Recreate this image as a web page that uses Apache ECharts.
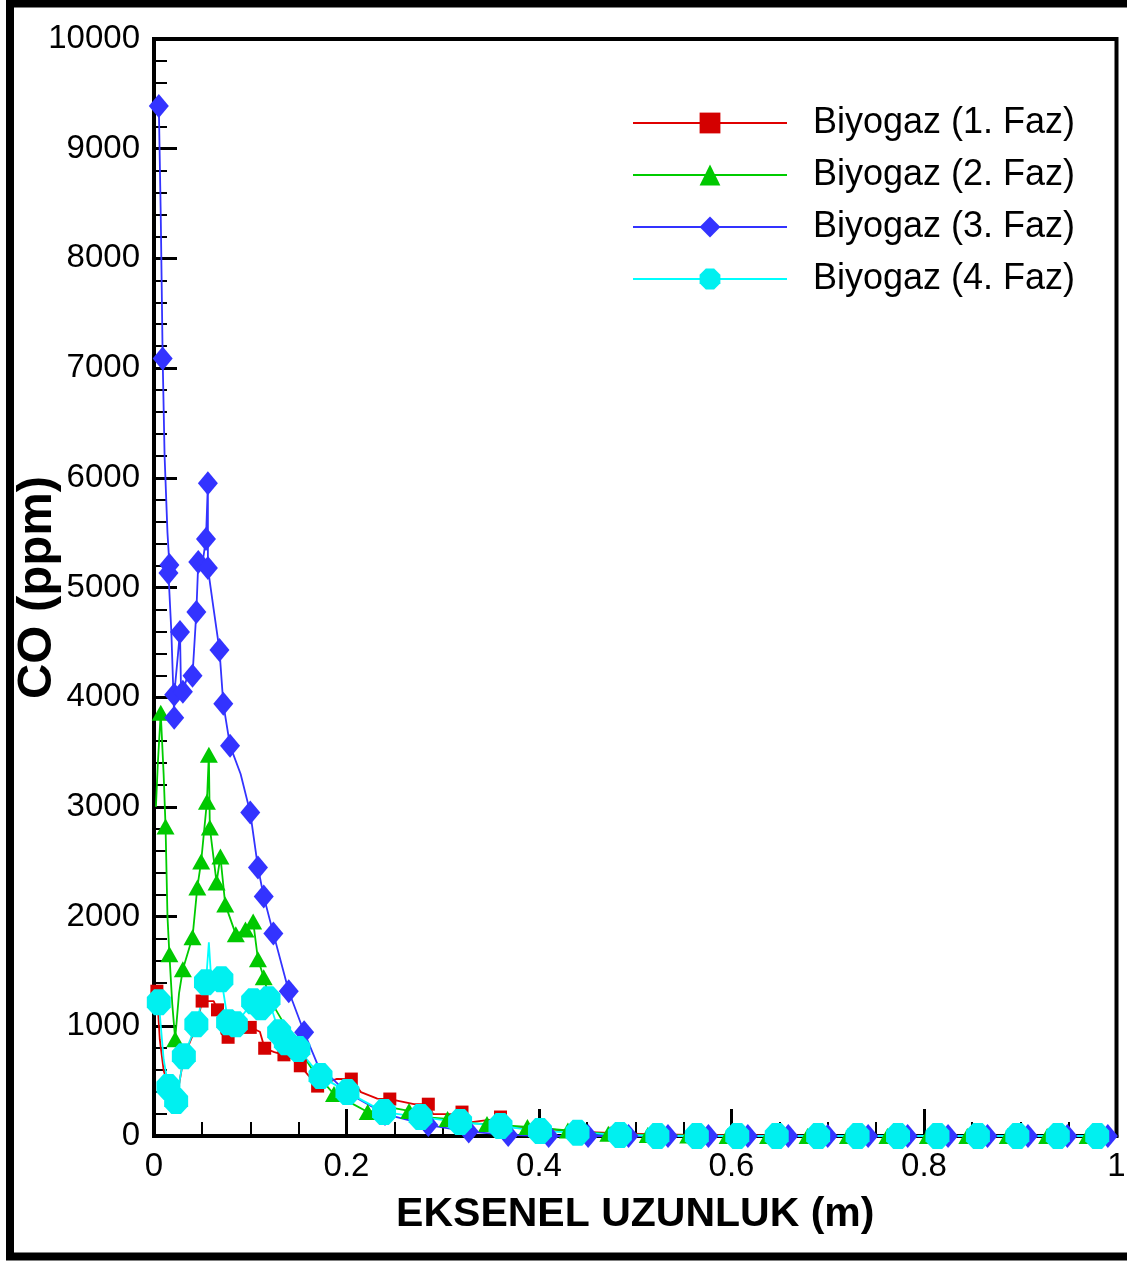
<!DOCTYPE html>
<html>
<head>
<meta charset="utf-8">
<script src="https://cdn.jsdelivr.net/npm/echarts@6/dist/echarts.min.js"></script>
<style>
html,body{margin:0;padding:0;background:#fff;}
#chart{width:1127px;height:1261px;}
</style>
</head>
<body>
<div id="chart"></div>
<script>
// ---------- data ----------
var seriesNames = ['Biyogaz (1. Faz)', 'Biyogaz (2. Faz)', 'Biyogaz (3. Faz)', 'Biyogaz (4. Faz)'];
var xTickLabels = ['0', '0.2', '0.4', '0.6', '0.8', '1'];
var yTickLabels = ['0','1000','2000','3000','4000','5000','6000','7000','8000','9000','10000'];

var redX = [0.003,0.006,0.010,0.015,0.023,0.031,0.044,0.050,0.062,0.066,0.070,0.077,0.090,0.100,0.110,0.115,0.125,0.135,0.145,0.152,0.170,0.190,0.205,0.215,0.232,0.245,0.270,0.285,0.290,0.310,0.320,0.330,0.350,0.360,0.370,0.400,0.440,0.480,0.523,0.564,0.606,0.647,0.690,0.731,0.773,0.814,0.856,0.897,0.939,0.980,1.0];
var redY = [1320,880,600,450,320,720,1000,1230,1230,1150,930,900,920,990,950,800,764,740,700,640,455,520,519,400,340,337,290,290,200,200,218,127,150,173,80,70,40,25,15,10,5,5,0,0,0,0,0,0,0,0,0];
var redMk = [1,0,0,1,1,1,1,1,0,1,0,1,0,1,0,1,0,1,0,1,1,0,1,0,0,1,0,1,0,0,1,0,0,1,0,1,1,1,1,1,1,1,1,1,1,1,1,1,1,1,0];

var greenX = [0.002,0.004,0.007,0.010,0.012,0.014,0.016,0.019,0.022,0.026,0.030,0.040,0.045,0.049,0.055,0.057,0.058,0.065,0.069,0.074,0.085,0.095,0.103,0.108,0.114,0.120,0.130,0.140,0.150,0.165,0.187,0.205,0.222,0.245,0.265,0.285,0.305,0.325,0.346,0.388,0.430,0.472,0.513,0.555,0.596,0.638,0.679,0.721,0.762,0.804,0.845,0.887,0.928,0.970,1.0];
var greenY = [3000,3400,3858,3300,2821,2000,1656,1200,883,1300,1520,1811,2266,2502,3048,3476,2812,2311,2548,2111,1838,1883,1956,1611,1447,1250,1100,950,800,600,382,300,218,260,228,170,155,120,109,82,50,20,10,5,0,0,0,0,0,0,0,0,0,0,0];
var greenMk = [0,0,1,0,1,0,1,0,1,0,1,1,1,1,1,1,1,1,1,1,1,1,1,1,1,0,0,0,1,0,1,0,1,0,1,0,1,0,1,1,1,1,1,1,1,1,1,1,1,1,1,1,1,1,0];

var blueX = [0.005,0.007,0.009,0.011,0.014,0.016,0.015,0.018,0.021,0.021,0.025,0.027,0.028,0.030,0.035,0.040,0.044,0.046,0.050,0.054,0.056,0.056,0.062,0.068,0.072,0.079,0.090,0.100,0.108,0.114,0.124,0.140,0.156,0.170,0.200,0.240,0.285,0.327,0.368,0.410,0.451,0.493,0.534,0.576,0.617,0.659,0.700,0.742,0.783,0.825,0.866,0.908,0.949,0.991];
var blueY = [9390,8400,7088,6200,5500,5205,5132,4600,3812,4022,4400,4595,4100,4049,4200,4195,4777,5232,5200,5441,5950,5177,4800,4431,3940,3558,3300,2948,2448,2184,1847,1320,946,650,400,200,100,40,10,0,0,0,0,0,0,0,0,0,0,0,0,0,0,0];
var blueMk = [1,0,1,0,0,1,1,0,1,1,0,1,0,1,0,1,1,1,0,1,1,1,0,1,1,1,0,1,1,1,1,1,1,0,1,1,1,1,1,1,1,1,1,1,1,1,1,1,1,1,1,1,1,1];

var cyanX = [0.005,0.010,0.015,0.023,0.031,0.044,0.054,0.057,0.060,0.070,0.077,0.085,0.103,0.111,0.119,0.130,0.137,0.150,0.173,0.201,0.239,0.277,0.318,0.360,0.401,0.440,0.484,0.523,0.564,0.606,0.647,0.690,0.731,0.773,0.814,0.856,0.897,0.939,0.980];
var cyanY = [1219,700,446,318,728,1019,1401,1765,1350,1429,1037,1019,1228,1174,1247,946,855,792,546,400,218,173,127,91,45,30,10,0,0,0,0,0,0,0,0,0,0,0,0];
var cyanMk = [1,0,1,1,1,1,1,0,0,1,1,1,1,1,1,1,1,1,1,1,1,1,1,1,1,1,1,1,1,1,1,1,1,1,1,1,1,1,1];

// ---------- helpers ----------
function build(xs, ys, mk) {
  var out = [];
  for (var i = 0; i < xs.length; i++) {
    var d = { value: [xs[i], ys[i]] };
    if (!mk[i]) d.symbol = 'none';
    out.push(d);
  }
  return out;
}
var baseFont = "'Liberation Sans', Arial, sans-serif";
var octagon = 'path://M3,0 L7,0 L10,3 L10,7 L7,10 L3,10 L0,7 L0,3 Z';

var chart = echarts.init(document.getElementById('chart'), null, { renderer: 'canvas' });
var option = {
  animation: false,
  backgroundColor: '#fff',
  graphic: [{
    type: 'rect', z: -1,
    shape: { x: 10, y: 3.5, width: 1200, height: 1253 },
    style: { fill: 'none', stroke: '#000', lineWidth: 8 }
  }],
  grid: {
    left: 154, top: 39, right: 10.5, bottom: 125,
    outerBoundsMode: 'none', containLabel: false,
    show: true, borderColor: '#000', borderWidth: 4, backgroundColor: 'transparent'
  },
  legend: {
    left: 627, top: 100, orient: 'vertical', padding: 5,
    itemWidth: 154, itemHeight: 26, itemGap: 16,
    data: seriesNames,
    textStyle: { fontFamily: baseFont, fontSize: 36, color: '#000', lineHeight: 36, padding: [0, 0, 0, 21] }
  },
  xAxis: {
    type: 'value', min: 0, max: 1, interval: 0.2,
    name: 'EKSENEL UZUNLUK (m)', nameLocation: 'middle', nameGap: 58,
    nameTextStyle: { fontFamily: baseFont, fontWeight: 'bold', fontSize: 41, color: '#000' },
    axisLine: { lineStyle: { color: '#000', width: 4 } },
    axisTick: { inside: true, length: 27, lineStyle: { color: '#000', width: 3 } },
    minorTick: { show: true, splitNumber: 4, length: 14, lineStyle: { color: '#000', width: 2 } },
    splitLine: { show: false },
    axisLabel: {
      margin: 14, color: '#000', fontFamily: baseFont, fontSize: 33,
      formatter: function (v) { var i = Math.round(v / 0.2); return xTickLabels[i]; }
    }
  },
  yAxis: {
    type: 'value', min: 0, max: 10000, interval: 1000,
    name: 'CO (ppm)', nameLocation: 'middle', nameGap: 92, nameRotate: 90,
    nameMoveOverlap: false,
    nameTextStyle: { fontFamily: baseFont, fontWeight: 'bold', fontSize: 49, color: '#000', lineHeight: 49 },
    axisLine: { lineStyle: { color: '#000', width: 4 } },
    axisTick: { inside: true, length: 23, lineStyle: { color: '#000', width: 3 } },
    minorTick: { show: true, splitNumber: 5, length: 13, lineStyle: { color: '#000', width: 2 } },
    splitLine: { show: false },
    axisLabel: {
      margin: 14, color: '#000', fontFamily: baseFont, fontSize: 33,
      formatter: function (v) { return yTickLabels[Math.round(v / 1000)]; }
    }
  },
  series: [
    { name: seriesNames[0], type: 'line', clip: false, data: build(redX, redY, redMk),
      symbol: 'rect', symbolSize: 13, color: '#d40000',
      lineStyle: { width: 1.8, color: '#e00000' }, itemStyle: { color: '#d40000' } },
    { name: seriesNames[1], type: 'line', clip: false, data: build(greenX, greenY, greenMk),
      symbol: 'triangle', symbolSize: [18, 16], color: '#00c800',
      lineStyle: { width: 1.8, color: '#00cc00' }, itemStyle: { color: '#00c800' } },
    { name: seriesNames[2], type: 'line', clip: false, data: build(blueX, blueY, blueMk),
      symbol: 'diamond', symbolSize: [20, 24], color: '#3333ff',
      lineStyle: { width: 1.8, color: '#3333ff' }, itemStyle: { color: '#3333ff' } },
    { name: seriesNames[3], type: 'line', clip: false, data: build(cyanX, cyanY, cyanMk),
      symbol: octagon, symbolSize: [24, 26], color: '#00f0f0',
      lineStyle: { width: 1.8, color: '#00ffff' }, itemStyle: { color: '#00f0f0' } }
  ]
};
chart.setOption(option);
</script>
</body>
</html>
